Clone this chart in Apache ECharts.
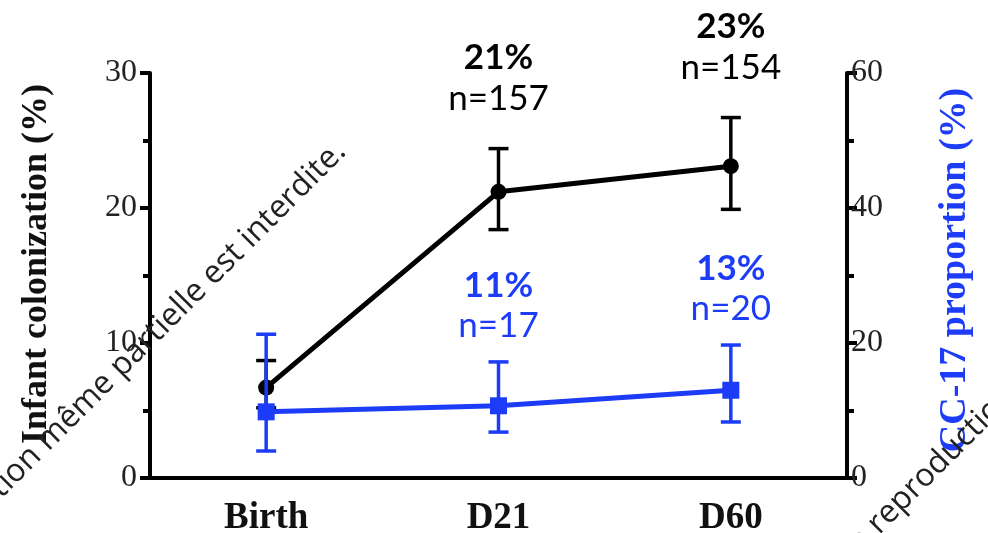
<!DOCTYPE html>
<html>
<head>
<meta charset="utf-8">
<script src="https://cdn.jsdelivr.net/npm/echarts@6/dist/echarts.min.js"></script>
<style>
html,body{margin:0;padding:0;background:#fff;}
#chart{width:988px;height:533px;}
</style>
</head>
<body>
<div id="chart"></div>
<script>
// ---- data ----
const categories = ['Birth', 'D21', 'D60'];
const colonization = [6.7, 21.2, 23.1];
const colonizationLow = [5.2, 18.4, 19.9];
const colonizationHigh = [8.7, 24.4, 26.7];
const cc17 = [9.8, 10.7, 13.0];
const cc17Low = [4.0, 6.8, 8.3];
const cc17High = [21.3, 17.2, 19.7];
const colonizationPct = ['', '21%', '23%'];
const colonizationN = ['', 'n=157', 'n=154'];
const cc17Pct = ['', '11%', '13%'];
const cc17N = ['', 'n=17', 'n=20'];
const leftTitle = 'Infant colonization (%)';
const rightTitle = 'CC-17 proportion (%)';
const watermarkHead = 'Toute ';
const watermarkTail = 'reproduction même partielle est interdite.';

const BLACK = '#000000';
const BLUE = '#1c3cf8';

function errorSeries(name, low, high, pct, nTxt, color, axisIdx, pctOff, nOff) {
  return {
    name: name,
    type: 'custom',
    yAxisIndex: axisIdx,
    clip: false,
    z: axisIdx === 1 ? 6 : 4,
    data: categories.map((c, i) => [i, low[i], high[i]]),
    renderItem: function (params, api) {
      const i = api.value(0);
      const top = api.coord([i, api.value(2)]);
      const bot = api.coord([i, api.value(1)]);
      const hw = 10;
      const st = { stroke: color, lineWidth: 3.5 };
      const children = [
        { type: 'line', shape: { x1: top[0], y1: top[1], x2: bot[0], y2: bot[1] }, style: st },
        { type: 'line', shape: { x1: top[0] - hw, y1: top[1], x2: top[0] + hw, y2: top[1] }, style: st },
        { type: 'line', shape: { x1: bot[0] - hw, y1: bot[1], x2: bot[0] + hw, y2: bot[1] }, style: st }
      ];
      if (pct[i]) {
        children.push({ type: 'text', x: top[0], y: top[1] - pctOff,
          style: { text: pct[i], fill: color, font: 'bold 35px Lato', align: 'center', verticalAlign: 'middle' } });
      }
      if (nTxt[i]) {
        children.push({ type: 'text', x: top[0], y: top[1] - nOff,
          style: { text: nTxt[i], fill: color, font: '35px Lato', align: 'center', verticalAlign: 'middle' } });
      }
      return { type: 'group', children: children };
    }
  };
}

const axisLineStyle = { color: BLACK, width: 4 };
const tickLabel = { fontFamily: 'Liberation Serif', fontSize: 32, color: '#222', margin: 13 };
const chart = echarts.init(document.getElementById('chart'), null, { renderer: 'canvas' });
chart.setOption({
  animation: false,
  backgroundColor: '#ffffff',
  grid: { left: 150, right: 141, top: 73, bottom: 55, containLabel: false, outerBoundsMode: 'none' },
  xAxis: {
    type: 'category',
    data: categories,
    boundaryGap: true,
    axisLine: { lineStyle: axisLineStyle },
    axisTick: { alignWithLabel: true, length: 9, lineStyle: { color: BLACK, width: 4 } },
    axisLabel: { fontFamily: 'Liberation Serif', fontWeight: 'bold', fontSize: 37, color: '#111', margin: 22 }
  },
  yAxis: [
    {
      type: 'value', min: 0, max: 30, interval: 10, position: 'left',
      axisLine: { show: true, lineStyle: axisLineStyle },
      axisTick: { show: true, length: 10, lineStyle: { color: BLACK, width: 4 } },
      minorTick: { show: true, splitNumber: 2, length: 7, lineStyle: { color: BLACK, width: 4 } },
      splitLine: { show: false },
      axisLabel: tickLabel
    },
    {
      type: 'value', min: 0, max: 60, interval: 20, position: 'right',
      axisLine: { show: true, lineStyle: axisLineStyle },
      axisTick: { show: true, length: 10, lineStyle: { color: BLACK, width: 4 } },
      minorTick: { show: true, splitNumber: 2, length: 7, lineStyle: { color: BLACK, width: 4 } },
      splitLine: { show: false },
      axisLabel: Object.assign({}, tickLabel, { margin: 4 })
    }
  ],
  series: [
    {
      name: 'Infant colonization', type: 'line', yAxisIndex: 0, z: 3,
      data: colonization, symbol: 'circle', symbolSize: 16,
      lineStyle: { color: BLACK, width: 5 }, itemStyle: { color: BLACK }
    },
    errorSeries('colonization CI', colonizationLow, colonizationHigh, colonizationPct, colonizationN, BLACK, 0, 91, 50),
    {
      name: 'CC-17 proportion', type: 'line', yAxisIndex: 1, z: 5,
      data: cc17, symbol: 'rect', symbolSize: 17,
      lineStyle: { color: BLUE, width: 5 }, itemStyle: { color: BLUE }
    },
    errorSeries('CC-17 CI', cc17Low, cc17High, cc17Pct, cc17N, BLUE, 1, 76, 36)
  ],
  graphic: [
    { type: 'text', x: 37, y: 264, rotation: Math.PI / 2, z: 10,
      style: { text: leftTitle, font: 'bold 36px "Liberation Serif"', fill: '#111', align: 'center', verticalAlign: 'middle' } },
    { type: 'text', x: 955, y: 270, rotation: Math.PI / 2, z: 10,
      style: { text: rightTitle, font: 'bold 38px "Liberation Serif"', fill: BLUE, align: 'center', verticalAlign: 'middle' } },
    { type: 'text', x: 352, y: 158, rotation: Math.PI / 4, z: 20,
      style: { text: watermarkHead + watermarkTail, font: '32px "Open Sans"', fill: '#222', align: 'right', verticalAlign: 'bottom' } },
    { type: 'text', x: 884, y: 540, rotation: Math.PI / 4, z: 20,
      style: { text: watermarkTail, font: '32px "Open Sans"', fill: '#222', align: 'left', verticalAlign: 'bottom' } },
    { type: 'text', x: 884, y: 540, rotation: Math.PI / 4, z: 20,
      style: { text: watermarkHead, font: '32px "Open Sans"', fill: '#222', align: 'right', verticalAlign: 'bottom' } }
  ]
});
</script>
</body>
</html>
